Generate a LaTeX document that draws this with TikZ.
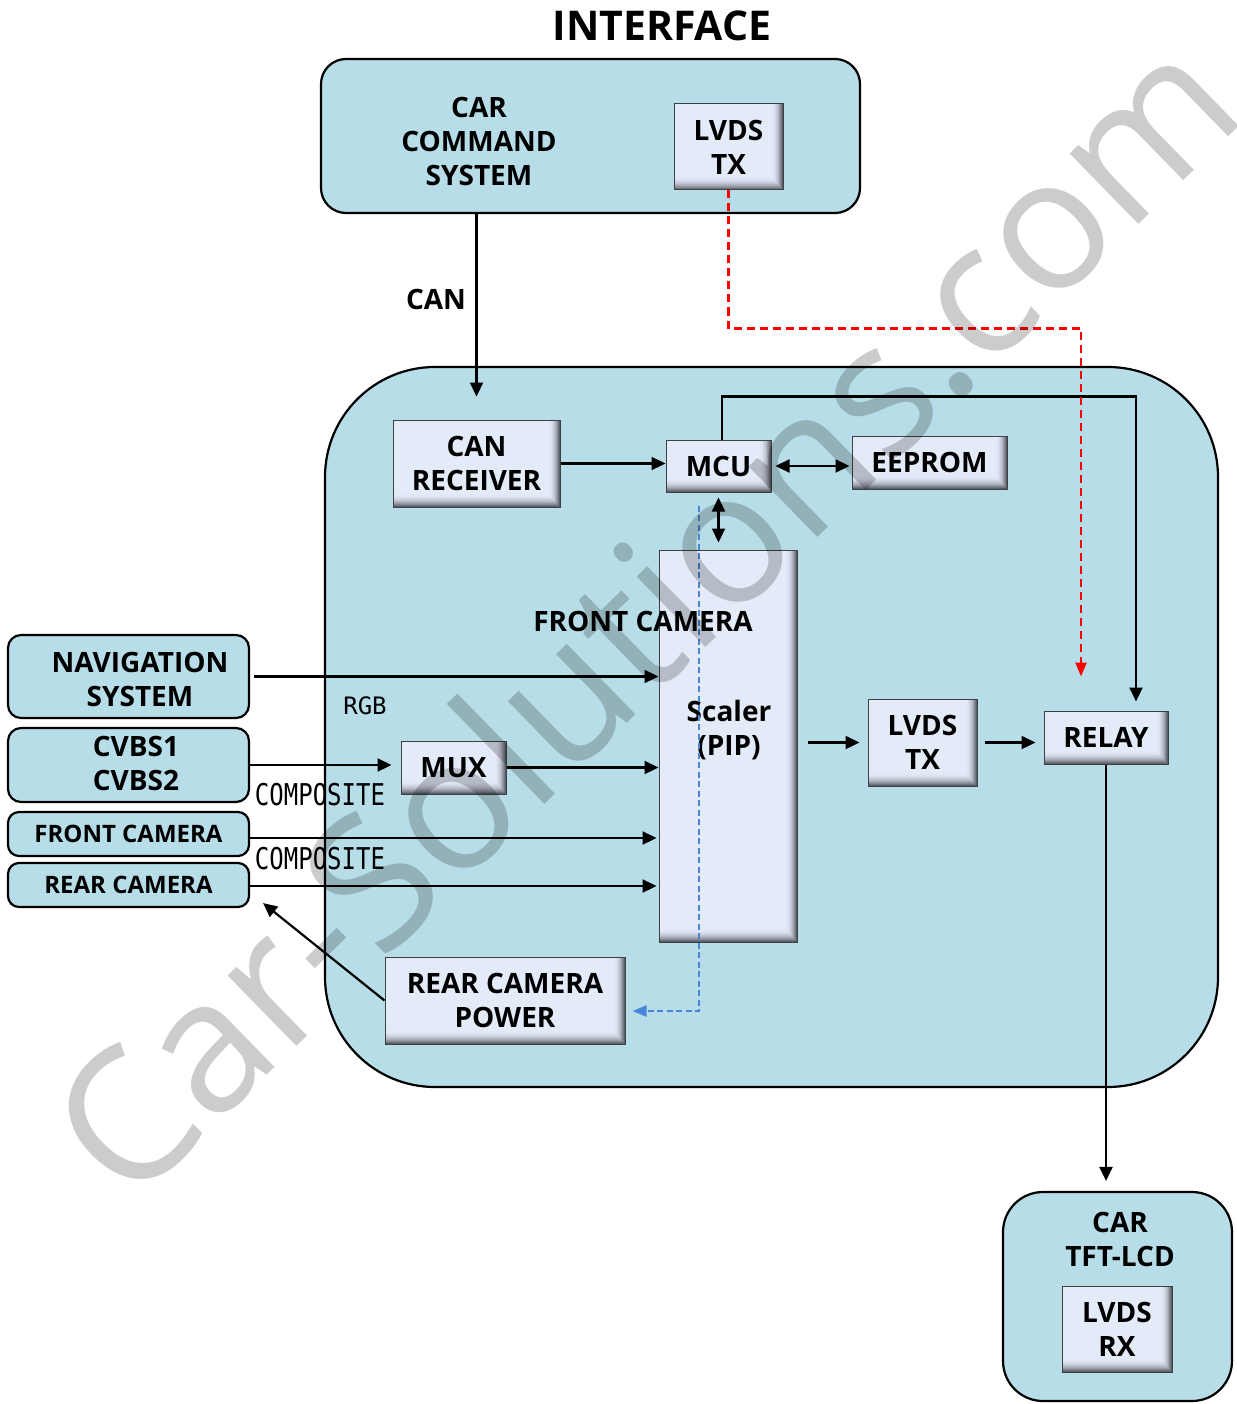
\documentclass[tikz,border=0pt]{standalone}
\usepackage{fontspec}
\usepackage{graphicx}
\setmainfont{Open Sans}
\newfontfamily\monof{DejaVu Sans Mono}
\usetikzlibrary{arrows.meta}
\definecolor{cont}{RGB}{183,222,232}
\definecolor{boxf}{RGB}{228,235,248}
\definecolor{shad}{RGB}{90,94,104}
\definecolor{redd}{RGB}{255,0,0}
\definecolor{blued}{RGB}{74,134,216}
\begin{document}
\begin{tikzpicture}[x=1pt,y=-1pt,
  container/.style={draw=black,line width=2.2pt,fill=cont,rounded corners=#1,inner sep=0pt,align=center},
  chip/.style={draw=black!75,line width=1pt,fill=boxf,inner sep=0pt,align=center,
    font=\bfseries\fontsize{28}{34}\selectfont,
    path picture={
      \foreach \i in {0,...,11} {
        \pgfmathsetmacro{\mix}{100*((\i+1)/12)^2.2}
        \fill[shad!\mix!boxf]
          ([yshift={(12-\i)*1.1pt}]path picture bounding box.south west) rectangle (path picture bounding box.south east)
          ([xshift={-(12-\i)*0.95pt}]path picture bounding box.north east) rectangle (path picture bounding box.south east);
      }
    }},
  lbl/.style={align=center,font=\bfseries\fontsize{28}{34}\selectfont,inner sep=0pt},
  smalllbl/.style={font=\bfseries\fontsize{24}{24}\selectfont},
  mono/.style={font=\monof\fontsize{24}{24}\selectfont,inner sep=0pt},
  conn/.style={line width=2.2pt,-{Triangle[length=14pt,width=13pt]}},
  dconn/.style={line width=2.2pt,{Triangle[length=14pt,width=13pt]}-{Triangle[length=14pt,width=13pt]}},
  reddash/.style={draw=redd,line width=2.4pt,dash pattern=on 8pt off 5pt,-{Triangle[length=14pt,width=11pt]}},
  bluedash/.style={draw=blued,line width=2.2pt,dash pattern=on 6pt off 3.5pt,-{Triangle[length=14pt,width=11pt]}},
]
\useasboundingbox (0,0) rectangle (1236,1404);
\node[font=\bfseries\fontsize{41}{41}\selectfont] (title) at (662,26) {INTERFACE};

% top system
\node[container=25pt, minimum width=539pt, minimum height=154pt] (ccs) at (590.5,136) {};
\node[lbl] (ccslbl) at (479,142) {CAR\\COMMAND\\SYSTEM};
\node[chip, minimum width=109pt, minimum height=86pt] (ltx1) at (728.5,147) {LVDS\\TX};
\node[lbl] (canlbl) at (436,299) {CAN};

% main board
\node[container=110pt, minimum width=893pt, minimum height=720pt] (main) at (771.5,727) {};
\node[chip, minimum width=167pt, minimum height=87pt] (canrx) at (476.5,463.5) {CAN\\RECEIVER};
\node[chip, minimum width=105pt, minimum height=52pt] (mcu) at (718.5,466) {MCU};
\node[chip, minimum width=155pt, minimum height=53pt] (eeprom) at (929.5,462.5) {EEPROM};
\node[chip, minimum width=138pt, minimum height=392pt] (scaler) at (728,746) {};
\node[lbl] (scalerlbl) at (729,730) {Scaler\\(PIP)};
\node[lbl] (fclbl) at (643,621) {FRONT CAMERA};
\node[chip, minimum width=105pt, minimum height=53pt] (mux) at (453.5,767.5) {MUX};
\node[chip, minimum width=240pt, minimum height=87pt] (rcp) at (505,1000.5) {REAR CAMERA\\POWER};
\node[chip, minimum width=109pt, minimum height=87pt] (ltx2) at (922.5,742.5) {LVDS\\TX};
\node[chip, minimum width=124pt, minimum height=53pt] (relay) at (1106,737.5) {RELAY};

% left sources
\node[container=13pt, minimum width=241pt, minimum height=83pt] (nav) at (128.5,676.5) {};
\node[lbl] (navlbl) at (140,679) {NAVIGATION\\SYSTEM};
\node[container=13pt, minimum width=241pt, minimum height=74pt] (cvbs) at (128.5,765) {};
\node[lbl] (cvbslbl) at (136,763) {CVBS1\\CVBS2};
\node[container=11pt, minimum width=241pt, minimum height=44pt, smalllbl] (fcam) at (128.5,834) {FRONT CAMERA};
\node[container=11pt, minimum width=241pt, minimum height=44pt, smalllbl] (rcam) at (128.5,885) {REAR CAMERA};
\node[mono] (rgb) at (365,706) {RGB};
\node[mono] (comp1) at (320,795) {\scalebox{1}[1.25]{COMPOSITE}};
\node[mono] (comp2) at (320,859) {\scalebox{1}[1.25]{COMPOSITE}};

% display
\node[container=40pt, minimum width=229pt, minimum height=209pt] (lcd) at (1117.5,1296.5) {};
\node[lbl] (lcdlbl) at (1120,1239.5) {CAR\\TFT-LCD};
\node[chip, minimum width=110pt, minimum height=86pt] (lrx) at (1117,1329) {LVDS\\RX};

% connectors
\draw[conn] (ccs.south -| canrx.north) -- ([yshift=23pt]canrx.north);
\draw[conn] (canrx.east) -- (canrx.east -| mcu.west);
\draw[dconn, shorten <=4pt, shorten >=2pt] (mcu.east) -- (mcu.east -| eeprom.west);
\draw[conn] ([xshift=3.5pt]mcu.north) -- ++(0,-43) -| ([xshift=30pt,yshift=9pt]relay.north);
\draw[dconn, shorten <=5pt, shorten >=7pt] (mcu.south) -- (mcu.south |- scaler.north);
\draw[conn] ([xshift=4pt]nav.east) -- (nav.east -| scaler.west);
\draw[conn, shorten >=9pt] (cvbs.east) -- (cvbs.east -| mux.west);
\draw[conn] (mux.east) -- (mux.east -| scaler.west);
\draw[conn, shorten >=2pt] ([yshift=-4pt]fcam.east) -- ([yshift=-4pt]fcam.east -| scaler.west);
\draw[conn, shorten >=2pt] ([yshift=-1pt]rcam.east) -- ([yshift=-1pt]rcam.east -| scaler.west);
\draw[conn] (rcp.west) -- ([xshift=13pt,yshift=5pt]rcam.south east);
\draw[bluedash] ([xshift=-19.5pt,yshift=-13pt]mcu.south) |- ([xshift=7pt,yshift=-10.5pt]rcp.east);
\draw[conn, shorten <=10pt, shorten >=8pt] (scaler.east |- ltx2.west) -- (ltx2.west);
\draw[conn, shorten <=7pt, shorten >=8pt] (ltx2.east) -- (ltx2.east -| relay.west);
\draw[reddash] (ltx1.south) -- ++(0,138) -| ([xshift=-25pt,yshift=34pt]relay.north);
\draw[conn, shorten >=10pt] (relay.south) -- (relay.south |- lcd.north);

% watermark
\node[rotate=44.3, anchor=base west, inner sep=0pt, text=black, text opacity=0.2,
  font=\fontsize{184}{184}\selectfont] (wm) at (129,1210) {Car-Solutions.com};
\end{tikzpicture}
\end{document}
